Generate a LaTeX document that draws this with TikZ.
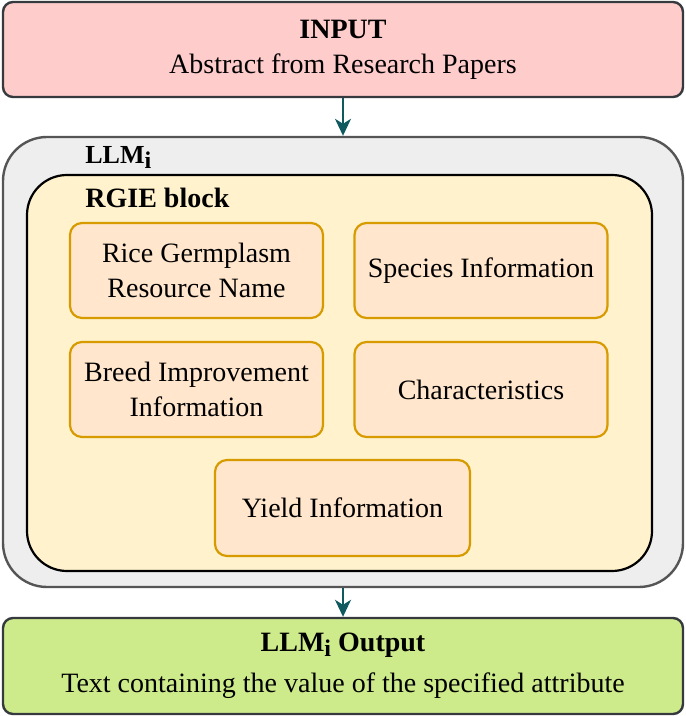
\documentclass[tikz,border=0pt]{standalone}
\usepackage{fontspec}
\setmainfont{Liberation Serif}[Ligatures=TeX]
\newfontfamily\timesface{Liberation Serif}
\usetikzlibrary{arrows.meta}
\definecolor{inred}{HTML}{FFCCCC}
\definecolor{outgreen}{HTML}{CDEB8B}
\definecolor{darkline}{HTML}{36393D}
\definecolor{llmgray}{HTML}{EEEEEE}
\definecolor{llmline}{HTML}{555555}
\definecolor{rgiefill}{HTML}{FFF2CC}
\definecolor{itemfill}{HTML}{FFE6CC}
\definecolor{itemline}{HTML}{D79B00}
\definecolor{arrowteal}{HTML}{10595F}
\newcommand{\lsub}[1]{\raisebox{-0.4ex}{\fontsize{12}{12}\selectfont #1}}
\tikzset{
  basebox/.style={rectangle, inner sep=0pt, align=center},
  iobox/.style={basebox, draw=darkline, line width=1.2pt, rounded corners=5pt,
    minimum width=340pt, minimum height=47.5pt},
  itembox/.style={basebox, draw=itemline, fill=itemfill, line width=1.1pt,
    rounded corners=6pt, minimum width=126.5pt, minimum height=47.5pt},
  flowarrow/.style={draw=arrowteal, line width=1pt,
    -{Stealth[length=8.5pt,width=8pt,inset=2.5pt]}},
  blocklabel/.style={anchor=base west, inner sep=0pt, font=\timesface\fontsize{14}{17}\selectfont\bfseries}
}
\begin{document}
\begin{tikzpicture}[x=0.5pt,y=-0.5pt,font=\timesface\fontsize{14}{17.5}\selectfont]
\useasboundingbox (0,0) rectangle (685,716);
% input
\node[iobox, fill=inred] (input) at (343,49.5)
  {\textbf{INPUT}\\Abstract from Research Papers};
% LLM outer
\node[basebox, draw=llmline, fill=llmgray, line width=1.2pt, rounded corners=22pt,
  minimum width=340pt, minimum height=225pt] (llm) at (343,362) {};
\node[blocklabel, font=\timesface\fontsize{13}{14}\selectfont\bfseries] (llmlabel) at (85,164) {LLM\lsub{i}};
% RGIE block
\node[basebox, draw=black, fill=rgiefill, line width=1.1pt, rounded corners=20pt,
  minimum width=312.5pt, minimum height=198pt] (rgie) at (339.5,373) {};
\node[blocklabel] (rgielabel) at (85,208) {RGIE block};
% items
\node[itembox] (rice) at (196.5,270.5) {Rice Germplasm\\Resource Name};
\node[itembox] (species) at (481,270.5) {Species Information};
\node[itembox] (breed) at (196.5,389.5) {Breed Improvement\\Information};
\node[itembox] (charac) at (481,389.5) {Characteristics};
\node[itembox, minimum width=127.5pt, minimum height=48pt] (yield) at (342.5,508) {Yield Information};
% output
\node[iobox, fill=outgreen, minimum height=48pt] (output) at (343,666)
  {\textbf{LLM\lsub{i} Output}\\[3pt]Text containing the value of the specified attribute};
% arrows
\draw[flowarrow] (input.south) -- (llm.north);
\draw[flowarrow] (llm.south) -- (output.north);
\end{tikzpicture}
\end{document}
